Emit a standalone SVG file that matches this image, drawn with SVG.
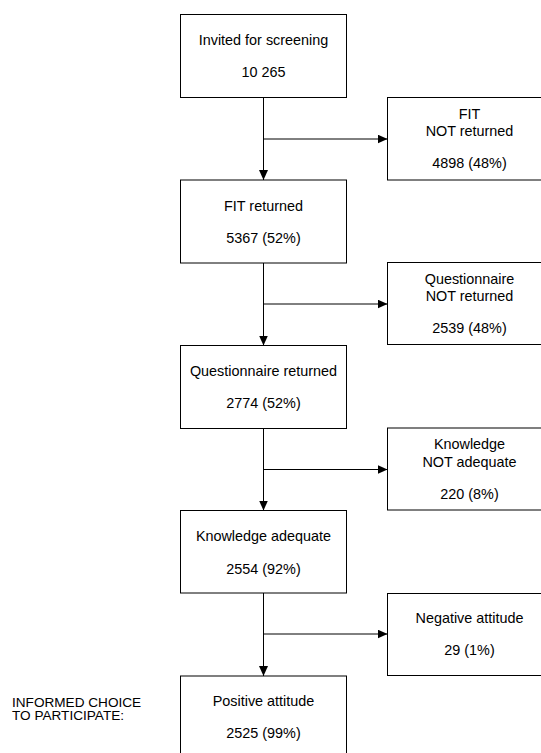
<svg xmlns="http://www.w3.org/2000/svg" width="541" height="753" viewBox="0 0 541 753">
<defs>
<style>
.box{fill:#fff;stroke:#000;stroke-width:1}
.t{font-family:"Liberation Sans",Arial,sans-serif;font-size:14.4px;fill:#000;text-anchor:middle}
.l{font-family:"Liberation Sans",Arial,sans-serif;font-size:13.6px;fill:#000}
.c{fill:none;stroke:#000;stroke-width:1}
</style>
<marker id="ah" markerUnits="userSpaceOnUse" markerWidth="10" markerHeight="9" refX="10" refY="4.5" orient="auto">
<path d="M0,0 L10,4.5 L0,9 Z" fill="#000"/>
</marker>
</defs>
<rect width="541" height="753" fill="#fff"/>
<g id="connectors">
<path class="c" d="M263.5,97.5 V180" marker-end="url(#ah)"/>
<path class="c" d="M263.5,139 H387.5" marker-end="url(#ah)"/>
<path class="c" d="M263.5,263 V345.5" marker-end="url(#ah)"/>
<path class="c" d="M263.5,304 H387.5" marker-end="url(#ah)"/>
<path class="c" d="M263.5,428.5 V510.5" marker-end="url(#ah)"/>
<path class="c" d="M263.5,469.5 H387.5" marker-end="url(#ah)"/>
<path class="c" d="M263.5,593 V676" marker-end="url(#ah)"/>
<path class="c" d="M263.5,634 H387.5" marker-end="url(#ah)"/>
</g>
<g id="invited">
<rect class="box" x="180.5" y="14.5" width="166" height="83"/>
<text class="t" x="263.5" y="45">Invited for screening</text>
<text class="t" x="263.5" y="77">10 265</text>
</g>
<g id="fit-not-returned">
<rect class="box" x="387.5" y="97.5" width="166" height="82.5"/>
<text class="t" x="469.5" y="118.5">FIT</text>
<text class="t" x="469.5" y="136">NOT returned</text>
<text class="t" x="469.5" y="168">4898 (48%)</text>
</g>
<g id="fit-returned">
<rect class="box" x="180.5" y="180" width="166" height="83"/>
<text class="t" x="263.5" y="210.5">FIT returned</text>
<text class="t" x="263.5" y="242.5">5367 (52%)</text>
</g>
<g id="questionnaire-not-returned">
<rect class="box" x="387.5" y="262.5" width="166" height="82"/>
<text class="t" x="469.5" y="283.5">Questionnaire</text>
<text class="t" x="469.5" y="301">NOT returned</text>
<text class="t" x="469.5" y="333">2539 (48%)</text>
</g>
<g id="questionnaire-returned">
<rect class="box" x="180.5" y="345.5" width="166" height="83"/>
<text class="t" x="263.5" y="376">Questionnaire returned</text>
<text class="t" x="263.5" y="408">2774 (52%)</text>
</g>
<g id="knowledge-not-adequate">
<rect class="box" x="387.5" y="428" width="166" height="82"/>
<text class="t" x="469.5" y="449">Knowledge</text>
<text class="t" x="469.5" y="466.5">NOT adequate</text>
<text class="t" x="469.5" y="498.5">220 (8%)</text>
</g>
<g id="knowledge-adequate">
<rect class="box" x="180.5" y="510.5" width="166" height="82.5"/>
<text class="t" x="263.5" y="541">Knowledge adequate</text>
<text class="t" x="263.5" y="573.5">2554 (92%)</text>
</g>
<g id="negative-attitude">
<rect class="box" x="387.5" y="593.5" width="166" height="82"/>
<text class="t" x="469.5" y="622.5">Negative attitude</text>
<text class="t" x="469.5" y="655">29 (1%)</text>
</g>
<g id="positive-attitude">
<rect class="box" x="180.5" y="676" width="166" height="83"/>
<text class="t" x="263.5" y="706">Positive attitude</text>
<text class="t" x="263.5" y="737.5">2525 (99%)</text>
</g>
<g id="informed-choice">
<text class="l" x="12" y="707">INFORMED CHOICE</text>
<text class="l" x="12" y="719.5">TO PARTICIPATE:</text>
</g>
</svg>
